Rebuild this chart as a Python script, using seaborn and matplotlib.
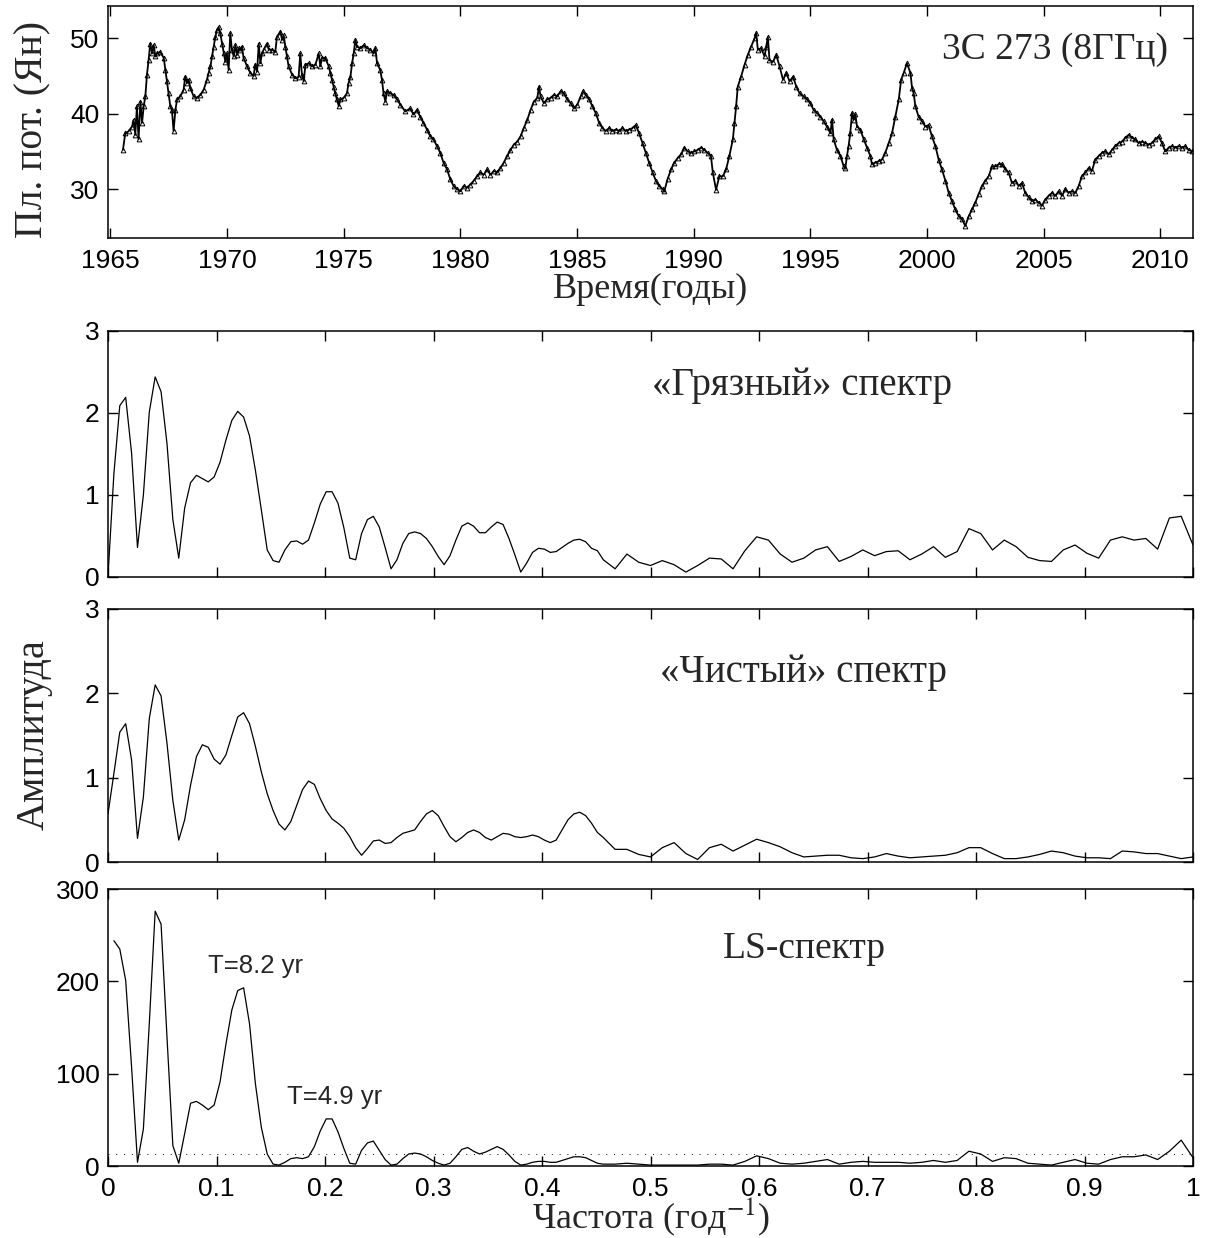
import numpy as np
import pandas as pd
import matplotlib
matplotlib.use("Agg")
import matplotlib.pyplot as plt
import seaborn as sns

# ---------------- data ----------------
# 3C 273 flux density at 8 GHz: (year, Jy)
LIGHT_CURVE = [
    (1965.54, 35.2), (1965.64, 37.4), (1965.79, 37.7), (1965.93, 38.3), (1966.00, 39.2),
    (1966.07, 37.2), (1966.14, 41.0), (1966.21, 36.6), (1966.29, 41.6), (1966.36, 38.8),
    (1966.43, 41.0), (1966.50, 42.3), (1966.57, 45.2), (1966.64, 47.1), (1966.71, 49.3),
    (1966.79, 48.0), (1966.86, 49.1), (1966.93, 47.6), (1967.00, 48.0), (1967.14, 48.2),
    (1967.29, 47.4), (1967.36, 45.8), (1967.43, 44.3), (1967.50, 42.7), (1967.57, 41.0),
    (1967.64, 40.5), (1967.71, 37.7), (1967.79, 40.5), (1967.86, 41.9), (1968.00, 42.3),
    (1968.14, 43.2), (1968.21, 44.9), (1968.29, 44.1), (1968.36, 44.5), (1968.43, 43.4),
    (1968.57, 42.3), (1968.71, 42.1), (1968.86, 42.5), (1969.00, 43.2), (1969.14, 44.5),
    (1969.21, 45.4), (1969.29, 46.3), (1969.36, 47.6), (1969.43, 48.9), (1969.50, 50.2),
    (1969.57, 51.1), (1969.64, 51.5), (1969.71, 50.7), (1969.79, 49.3), (1969.86, 48.0),
    (1969.93, 46.9), (1970.00, 48.0), (1970.07, 45.8), (1970.14, 50.7), (1970.21, 48.5),
    (1970.29, 47.6), (1970.36, 49.1), (1970.43, 47.8), (1970.50, 48.7), (1970.57, 48.5),
    (1970.64, 48.9), (1970.71, 47.4), (1970.86, 46.3), (1971.00, 45.4), (1971.14, 45.0),
    (1971.21, 46.5), (1971.29, 45.6), (1971.36, 49.3), (1971.43, 46.7), (1971.50, 48.0),
    (1971.57, 48.5), (1971.71, 49.3), (1971.79, 48.5), (1971.93, 48.5), (1972.07, 48.2),
    (1972.14, 50.2), (1972.29, 50.9), (1972.36, 49.8), (1972.43, 50.4), (1972.50, 48.9),
    (1972.57, 47.6), (1972.64, 46.3), (1972.79, 45.2), (1972.93, 44.7), (1973.07, 44.9),
    (1973.14, 48.0), (1973.21, 45.2), (1973.29, 44.3), (1973.36, 46.5), (1973.50, 46.7),
    (1973.64, 46.3), (1973.79, 46.5), (1973.93, 48.0), (1974.00, 46.3), (1974.07, 47.4),
    (1974.21, 47.4), (1974.36, 46.3), (1974.43, 45.4), (1974.50, 44.5), (1974.57, 43.6),
    (1974.64, 42.7), (1974.71, 41.9), (1974.79, 41.0), (1974.86, 41.9), (1975.00, 42.1),
    (1975.14, 42.7), (1975.21, 44.1), (1975.29, 44.9), (1975.36, 46.7), (1975.43, 48.0),
    (1975.50, 49.8), (1975.57, 48.9), (1975.71, 48.7), (1975.86, 49.1), (1976.00, 48.7),
    (1976.14, 48.5), (1976.29, 48.0), (1976.36, 48.7), (1976.43, 46.7), (1976.57, 45.8),
    (1976.64, 44.5), (1976.71, 42.7), (1976.79, 41.6), (1976.86, 43.0), (1977.00, 42.7),
    (1977.14, 42.5), (1977.29, 41.9), (1977.43, 41.2), (1977.64, 40.3), (1977.85, 40.7),
    (1977.99, 39.9), (1978.14, 40.5), (1978.28, 39.6), (1978.42, 38.8), (1978.57, 37.9),
    (1978.71, 37.0), (1978.85, 36.6), (1979.00, 35.7), (1979.14, 34.8), (1979.28, 33.5),
    (1979.43, 32.6), (1979.57, 31.3), (1979.71, 30.4), (1979.86, 30.0), (1980.00, 29.7),
    (1980.14, 30.4), (1980.29, 30.2), (1980.43, 30.6), (1980.57, 31.1), (1980.72, 31.7),
    (1980.86, 32.2), (1981.00, 31.9), (1981.15, 32.6), (1981.29, 31.9), (1981.43, 32.4),
    (1981.58, 32.2), (1981.72, 32.8), (1981.86, 33.5), (1982.01, 34.4), (1982.15, 35.2),
    (1982.29, 35.9), (1982.44, 36.3), (1982.58, 37.0), (1982.72, 38.1), (1982.87, 39.2),
    (1983.01, 40.5), (1983.15, 41.6), (1983.30, 42.1), (1983.37, 43.6), (1983.44, 42.3),
    (1983.58, 41.4), (1983.72, 41.9), (1983.87, 42.1), (1984.01, 42.5), (1984.15, 42.3),
    (1984.30, 43.0), (1984.44, 42.7), (1984.58, 41.9), (1984.73, 41.4), (1984.87, 40.7),
    (1985.01, 41.2), (1985.16, 42.3), (1985.27, 43.0), (1985.37, 42.5), (1985.52, 41.9),
    (1985.66, 41.0), (1985.80, 40.1), (1985.95, 38.8), (1986.09, 38.1), (1986.23, 37.7),
    (1986.38, 38.1), (1986.52, 37.7), (1986.66, 37.9), (1986.81, 37.7), (1986.95, 38.1),
    (1987.09, 37.7), (1987.24, 37.9), (1987.38, 38.1), (1987.52, 38.5), (1987.66, 37.4),
    (1987.81, 36.1), (1987.95, 34.8), (1988.09, 33.5), (1988.24, 32.2), (1988.38, 31.1),
    (1988.52, 30.4), (1988.67, 30.0), (1988.74, 29.7), (1988.88, 31.3), (1989.03, 32.6),
    (1989.17, 33.5), (1989.31, 34.1), (1989.46, 34.6), (1989.60, 35.5), (1989.74, 35.0),
    (1989.89, 34.8), (1990.03, 35.0), (1990.17, 35.2), (1990.32, 35.5), (1990.46, 35.2),
    (1990.60, 34.8), (1990.74, 34.4), (1990.82, 32.2), (1990.96, 29.9), (1991.10, 31.7),
    (1991.25, 31.7), (1991.39, 32.6), (1991.53, 34.4), (1991.68, 36.6), (1991.75, 38.8),
    (1991.82, 41.0), (1991.89, 43.6), (1992.03, 44.9), (1992.18, 46.5), (1992.32, 47.8),
    (1992.46, 48.9), (1992.61, 50.0), (1992.68, 50.7), (1992.75, 48.5), (1992.89, 48.7),
    (1993.04, 47.6), (1993.11, 48.9), (1993.18, 50.2), (1993.25, 47.1), (1993.40, 46.9),
    (1993.54, 47.8), (1993.68, 46.3), (1993.83, 44.5), (1993.97, 45.4), (1994.11, 44.3),
    (1994.26, 44.9), (1994.40, 43.6), (1994.54, 42.7), (1994.71, 42.3), (1994.86, 41.9),
    (1995.00, 41.4), (1995.14, 40.5), (1995.29, 40.1), (1995.43, 39.6), (1995.57, 39.0),
    (1995.71, 38.3), (1995.86, 37.4), (1995.93, 39.2), (1996.00, 36.6), (1996.14, 35.2),
    (1996.29, 34.4), (1996.43, 33.0), (1996.50, 32.8), (1996.57, 34.4), (1996.64, 35.7),
    (1996.71, 37.4), (1996.79, 40.1), (1996.86, 39.2), (1996.93, 39.9), (1997.00, 38.3),
    (1997.14, 37.9), (1997.29, 36.6), (1997.43, 35.5), (1997.57, 34.4), (1997.64, 33.3),
    (1997.79, 33.5), (1997.93, 33.7), (1998.07, 33.9), (1998.21, 34.8), (1998.36, 36.1),
    (1998.50, 37.4), (1998.64, 39.6), (1998.79, 41.9), (1998.89, 44.5), (1999.00, 45.4),
    (1999.14, 46.7), (1999.29, 45.4), (1999.36, 43.4), (1999.43, 42.7), (1999.50, 41.0),
    (1999.64, 39.6), (1999.79, 39.0), (1999.93, 38.3), (2000.07, 38.5), (2000.21, 37.0),
    (2000.36, 35.7), (2000.50, 33.9), (2000.64, 32.6), (2000.79, 31.1), (2000.93, 29.5),
    (2001.07, 28.4), (2001.21, 27.3), (2001.36, 26.4), (2001.50, 26.0), (2001.64, 25.1),
    (2001.79, 26.4), (2001.93, 27.3), (2002.07, 28.2), (2002.21, 29.3), (2002.36, 30.4),
    (2002.50, 31.1), (2002.64, 31.7), (2002.79, 33.0), (2002.93, 33.0), (2003.07, 33.3),
    (2003.21, 33.3), (2003.36, 32.6), (2003.50, 32.2), (2003.64, 30.8), (2003.79, 31.1),
    (2003.93, 30.4), (2004.07, 30.8), (2004.21, 29.5), (2004.36, 28.9), (2004.50, 28.4),
    (2004.64, 28.6), (2004.79, 28.2), (2004.93, 27.8), (2005.07, 28.6), (2005.21, 29.1),
    (2005.36, 29.5), (2005.50, 29.1), (2005.64, 29.7), (2005.79, 29.1), (2005.93, 30.0),
    (2006.07, 29.5), (2006.21, 29.7), (2006.36, 29.5), (2006.50, 30.4), (2006.64, 31.7),
    (2006.79, 32.2), (2006.93, 32.8), (2007.07, 32.4), (2007.21, 33.9), (2007.36, 34.4),
    (2007.50, 34.8), (2007.64, 35.0), (2007.79, 34.6), (2007.93, 35.2), (2008.07, 35.7),
    (2008.21, 36.1), (2008.36, 36.3), (2008.50, 36.8), (2008.64, 37.2), (2008.79, 36.8),
    (2008.93, 36.6), (2009.07, 36.1), (2009.21, 36.3), (2009.36, 36.1), (2009.50, 35.9),
    (2009.64, 36.1), (2009.79, 36.6), (2009.93, 37.0), (2010.07, 36.1), (2010.21, 35.0),
    (2010.36, 35.5), (2010.50, 35.7), (2010.64, 35.5), (2010.79, 35.7), (2010.93, 35.5),
    (2011.07, 35.7), (2011.21, 35.2), (2011.36, 35.0),
]

# frequency grid index (step 1/184 yr^-1): fine below 0.45, every second step above
FREQ_STEP = 1.0 / 184
FREQ_INDEX = np.concatenate([np.arange(0, 84), np.arange(84, 185, 2)])

# "dirty" spectrum amplitude
DIRTY = [
    0.01, 1.26, 2.09, 2.19, 1.51, 0.36, 1.00, 2.01, 2.44, 2.26,
    1.63, 0.70, 0.23, 0.84, 1.15, 1.24, 1.20, 1.16, 1.22, 1.40,
    1.67, 1.91, 2.02, 1.95, 1.72, 1.30, 0.82, 0.33, 0.20, 0.18,
    0.33, 0.43, 0.44, 0.40, 0.45, 0.66, 0.89, 1.04, 1.04, 0.90,
    0.60, 0.23, 0.21, 0.53, 0.70, 0.74, 0.61, 0.36, 0.10, 0.21,
    0.41, 0.53, 0.55, 0.53, 0.47, 0.37, 0.25, 0.15, 0.26, 0.45,
    0.62, 0.66, 0.62, 0.54, 0.54, 0.61, 0.67, 0.64, 0.47, 0.27,
    0.06, 0.17, 0.30, 0.35, 0.34, 0.30, 0.31, 0.36, 0.41, 0.45,
    0.46, 0.43, 0.35, 0.32,
    0.21, 0.10, 0.28, 0.18, 0.14, 0.20, 0.15, 0.06, 0.14, 0.23,
    0.22, 0.10, 0.32, 0.49, 0.45, 0.28, 0.18, 0.23, 0.33, 0.37,
    0.19, 0.25, 0.33, 0.26, 0.31, 0.32, 0.21, 0.28, 0.37, 0.24,
    0.31, 0.59, 0.53, 0.33, 0.45, 0.37, 0.24, 0.20, 0.19, 0.33,
    0.39, 0.29, 0.23, 0.45, 0.49, 0.45, 0.47, 0.34, 0.72, 0.74,
    0.39,
]

# "clean" spectrum amplitude
CLEAN = [
    0.57, 1.05, 1.54, 1.64, 1.21, 0.28, 0.77, 1.70, 2.10, 1.97,
    1.41, 0.73, 0.26, 0.50, 0.91, 1.25, 1.39, 1.36, 1.22, 1.16,
    1.27, 1.50, 1.72, 1.77, 1.64, 1.37, 1.07, 0.81, 0.61, 0.45,
    0.38, 0.48, 0.67, 0.86, 0.96, 0.92, 0.75, 0.61, 0.51, 0.46,
    0.40, 0.30, 0.17, 0.08, 0.16, 0.25, 0.26, 0.22, 0.23, 0.29,
    0.34, 0.36, 0.38, 0.48, 0.57, 0.61, 0.55, 0.42, 0.30, 0.24,
    0.29, 0.35, 0.38, 0.35, 0.29, 0.26, 0.30, 0.34, 0.33, 0.30,
    0.29, 0.30, 0.32, 0.30, 0.26, 0.23, 0.26, 0.38, 0.50, 0.57,
    0.59, 0.55, 0.46, 0.35,
    0.29, 0.15, 0.15, 0.09, 0.06, 0.17, 0.23, 0.10, 0.03, 0.17,
    0.21, 0.13, 0.20, 0.27, 0.23, 0.18, 0.11, 0.06, 0.07, 0.08,
    0.08, 0.05, 0.04, 0.06, 0.10, 0.07, 0.05, 0.06, 0.07, 0.08,
    0.11, 0.17, 0.17, 0.10, 0.04, 0.04, 0.06, 0.09, 0.13, 0.11,
    0.07, 0.05, 0.05, 0.04, 0.13, 0.12, 0.10, 0.10, 0.07, 0.04,
    0.06,
]

# Lomb-Scargle periodogram power
LS_POWER = [
    np.nan, 244, 235, 201, 107, 4, 40, 154, 276, 262,
    140, 22, 3, 35, 68, 70, 66, 61, 66, 91,
    132, 169, 190, 193, 154, 89, 42, 13, 2, 1,
    4, 8, 9, 8, 10, 21, 38, 51, 51, 37,
    19, 3, 2, 17, 25, 27, 17, 7, 1, 2,
    8, 13, 14, 13, 10, 6, 3, 1, 3, 10,
    18, 20, 16, 13, 15, 18, 21, 18, 12, 5,
    1, 2, 4, 5, 5, 4, 4, 6, 8, 10,
    10, 9, 6, 3,
    2, 2, 3, 2, 1, 1, 1, 1, 1, 2,
    2, 1, 5, 11, 8, 3, 2, 3, 5, 7,
    2, 4, 5, 4, 4, 4, 3, 4, 6, 4,
    6, 16, 13, 5, 9, 8, 3, 2, 1, 4,
    7, 3, 2, 7, 10, 10, 12, 7, 16, 28,
    9,
]
LS_SIGNIFICANCE = 12.6

PEAK_LABELS = [("T=8.2 yr", 0.092, 217), ("T=4.9 yr", 0.165, 75)]

# ---------------- style ----------------
sns.set_theme(style="ticks")
plt.rcParams["font.family"] = ["Liberation Sans", "DejaVu Sans"]
plt.rcParams["mathtext.fontset"] = "stix"
plt.rcParams.update({
    "axes.linewidth": 1.1,
    "axes.edgecolor": "black",
    "xtick.color": "black",
    "ytick.color": "black",
    "xtick.labelsize": 19,
    "ytick.labelsize": 19,
})
SERIF = ["Liberation Serif", "DejaVu Serif"]

lc = pd.DataFrame(LIGHT_CURVE, columns=["year", "flux"])
freq = FREQ_INDEX * FREQ_STEP
spec = pd.DataFrame({"freq": freq, "dirty": DIRTY, "clean": CLEAN, "ls": LS_POWER})

W, H = 1209, 1238
fig = plt.figure(figsize=(W / 100, H / 100), dpi=100)


def frac_axes(x0, y0, x1, y1):
    return fig.add_axes([x0 / W, 1 - y1 / H, (x1 - x0) / W, (y1 - y0) / H])


def style_ticks(ax):
    ax.tick_params(direction="in", top=True, right=True, length=7, width=1.0)
    ax.tick_params(axis="x", pad=8)
    ax.tick_params(axis="y", pad=6)
    for s in ax.spines.values():
        s.set_visible(True)
        s.set_color("black")


# light curve
ax0 = frac_axes(108, 6, 1193, 238)
sns.lineplot(data=lc, x="year", y="flux", ax=ax0, color="black", lw=1.3,
             sort=False, estimator=None, marker="^", markersize=3.4,
             markerfacecolor="none", markeredgecolor="black", markeredgewidth=0.7)
ax0.set_xlim(1964.9, 2011.4)
ax0.set_ylim(23.5, 54.3)
ax0.set_xticks(np.arange(1965, 2011, 5))
ax0.set_yticks([30, 40, 50])
ax0.set_xlabel("")
ax0.set_ylabel("")
style_ticks(ax0)
ax0.text(0.977, 0.81, "3C 273 (8ГГц)", transform=ax0.transAxes, ha="right",
         va="center", fontsize=27, family=SERIF)

# spectra
ax1 = frac_axes(108, 331, 1193, 577)
ax2 = frac_axes(108, 609, 1193, 862)
ax3 = frac_axes(108, 889, 1193, 1166)

sns.lineplot(data=spec, x="freq", y="dirty", ax=ax1, color="black", lw=0.9,
             sort=False, estimator=None)
sns.lineplot(data=spec, x="freq", y="clean", ax=ax2, color="black", lw=0.9,
             sort=False, estimator=None)
sns.lineplot(data=spec, x="freq", y="ls", ax=ax3, color="black", lw=0.9,
             sort=False, estimator=None)
ax3.axhline(LS_SIGNIFICANCE, color="black", lw=0.7, ls=(0, (1, 7)))

for ax in (ax1, ax2):
    ax.set_ylim(0, 3)
    ax.set_yticks([0, 1, 2, 3])
ax3.set_ylim(0, 300)
ax3.set_yticks([0, 100, 200, 300])
for ax in (ax1, ax2, ax3):
    ax.set_xlim(0, 1)
    ax.set_xticks(np.round(np.arange(0, 1.01, 0.1), 1))
    ax.set_xlabel("")
    ax.set_ylabel("")
    style_ticks(ax)
ax1.set_xticklabels([])
ax2.set_xticklabels([])
ax3.set_xticklabels(["0", "0.1", "0.2", "0.3", "0.4", "0.5", "0.6", "0.7",
                     "0.8", "0.9", "1"])

ax1.text(0.501, 0.78, "«Грязный» спектр", transform=ax1.transAxes, ha="left",
         va="center", fontsize=28, family=SERIF)
ax2.text(0.509, 0.75, "«Чистый» спектр", transform=ax2.transAxes, ha="left",
         va="center", fontsize=28, family=SERIF)
ax3.text(0.567, 0.783, "LS-спектр", transform=ax3.transAxes, ha="left",
         va="center", fontsize=27, family=SERIF)
for label, fx, py in PEAK_LABELS:
    ax3.text(fx, py, label, ha="left", va="center", fontsize=18.5)

# axis titles
fig.text(33 / W, 1 - 129 / H, "Пл. пот. (Ян)", rotation=90, ha="center",
         va="center", fontsize=28.5, family=SERIF)
fig.text(651 / W, 1 - 289 / H, "Время(годы)", ha="center", va="center",
         fontsize=26, family=SERIF)
fig.text(34 / W, 1 - 735 / H, "Амплитуда", rotation=90, ha="center",
         va="center", fontsize=29, family=SERIF)
fig.text(651 / W, 1 - 1217 / H, "Частота (год$^{-1}$)", ha="center",
         va="center", fontsize=26, family=SERIF)

fig.savefig("out.png", dpi=100, facecolor="white")
